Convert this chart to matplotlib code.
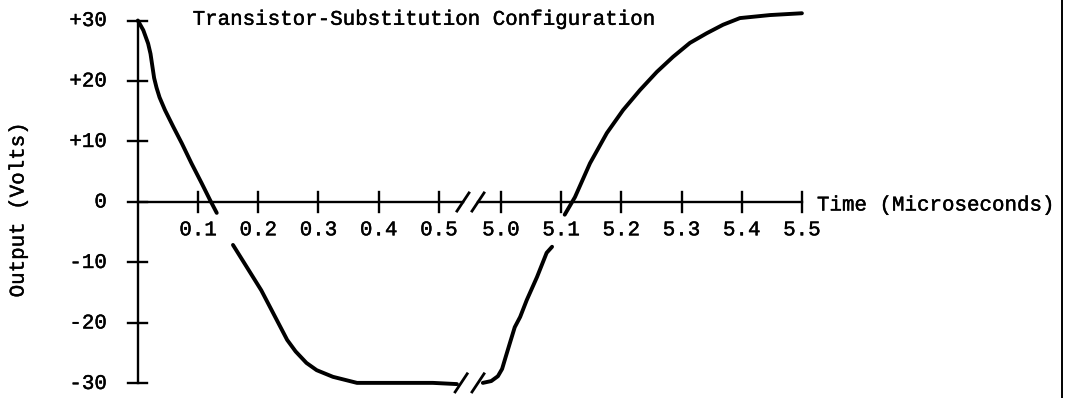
import numpy as np
import matplotlib.pyplot as plt
import matplotlib.patheffects as pe
from matplotlib.lines import Line2D

# time in microseconds, output in volts
t_fall_a = [0.0, 0.009, 0.017, 0.021, 0.024, 0.027, 0.031, 0.036, 0.045, 0.059, 0.073, 0.089, 0.106, 0.120, 0.131]
v_fall_a = [30.0, 28.4, 26.2, 24.5, 22.5, 20.5, 18.9, 17.3, 15.2, 12.4, 9.7, 6.4, 3.1, 0.3, -1.8]

t_fall_b = [0.158, 0.205, 0.248, 0.262, 0.280, 0.297, 0.324, 0.364, 0.490, 0.530]
v_fall_b = [-7.1, -14.6, -22.8, -24.7, -26.6, -27.8, -28.9, -29.9, -29.9, -30.1]

t_rise_a = [4.970, 4.984, 4.995, 5.002, 5.008, 5.015, 5.023, 5.032, 5.043, 5.060, 5.076, 5.085]
v_rise_a = [-29.9, -29.6, -28.8, -27.6, -25.6, -23.3, -20.7, -19.0, -16.2, -12.4, -8.4, -7.4]

t_rise_b = [5.106, 5.123, 5.148, 5.176, 5.203, 5.231, 5.259, 5.286, 5.314, 5.342, 5.369, 5.397, 5.447, 5.500]
v_rise_b = [-2.1, 0.8, 6.4, 11.4, 15.2, 18.5, 21.5, 24.0, 26.3, 27.9, 29.3, 30.4, 30.9, 31.2]

x_ticks = [0.1, 0.2, 0.3, 0.4, 0.5, 5.0, 5.1, 5.2, 5.3, 5.4, 5.5]
x_labels = ['0.1', '0.2', '0.3', '0.4', '0.5', '5.0', '5.1', '5.2', '5.3', '5.4', '5.5']
y_ticks = [30, 20, 10, 0, -10, -20, -30]
y_labels = ['+30', '+20', '+10', '0', '-10', '-20', '-30']

# broken time axis: 0.55 .. 4.95 squeezed into almost nothing
B1, B2, SHIFT = 0.55, 4.95, 4.397
GAP = (B2 - SHIFT) - B1


def fwd(t):
    t = np.asarray(t, dtype=float)
    mid = B1 + (t - B1) * GAP / (B2 - B1)
    return np.where(t <= B1, t, np.where(t >= B2, t - SHIFT, mid))


def inv(u):
    u = np.asarray(u, dtype=float)
    mid = B1 + (u - B1) * (B2 - B1) / GAP
    return np.where(u <= B1, u, np.where(u >= B1 + GAP, u + SHIFT, mid))


# typewriter look, slightly inked
font = dict(family=['Liberation Mono', 'DejaVu Sans Mono'], fontsize=15, color='black',
            path_effects=[pe.withStroke(linewidth=0.3, foreground='black')])

fig = plt.figure(figsize=(10.65, 3.98), dpi=100)
ax = fig.add_axes([0, 0, 1, 1])
ax.set_xscale('function', functions=(fwd, inv))
ax.set_xlim(-0.229, 5.937)
ax.set_ylim(-32.4, 33.39)
ax.axis('off')

line_kw = dict(color='black', lw=2.8, solid_capstyle='round', solid_joinstyle='round')
for tt, vv in [(t_fall_a, v_fall_a), (t_fall_b, v_fall_b), (t_rise_a, v_rise_a), (t_rise_b, v_rise_b)]:
    ax.plot(tt, vv, **line_kw)

# axes
axis_kw = dict(color='black', lw=1.7)
ax.plot([0, 0], [30, -30], **axis_kw)
ax.plot([0, 0.54], [0, 0], **axis_kw)
ax.plot([4.962, 5.5], [0, 0], **axis_kw)
for yt, lab in zip(y_ticks, y_labels):
    ax.plot([-0.016, 0.015], [yt, yt], **axis_kw)
    ax.text(-0.0515, yt, lab, ha='right', va='center', **font)
for xt, lab in zip(x_ticks, x_labels):
    ax.plot([xt, xt], [1.65, -1.65], **axis_kw)
    ax.text(xt, -4.6, lab, ha='center', va='center', **font)

# break marks on the axis and on the curve
for xc, yc in [(0.54, 0), (4.962, 0), (0.537, -29.9), (4.962, -29.9)]:
    ax.plot([xc - 0.01, xc + 0.01], [yc - 1.5, yc + 1.5], color='black', lw=2.0)

ax.text(0.091, 30.2, 'Transistor-Substitution Configuration', ha='left', va='center', **font)
ax.text(5.525, -0.5, 'Time (Microseconds)', ha='left', va='center', **font)
ax.text(-0.199, -1.3, 'Output (Volts)', ha='center', va='center', rotation=90, **font)

fig.add_artist(Line2D([1062 / 1065, 1062 / 1065], [0, 1], color='black', lw=1.4))

fig.savefig('out.png', dpi=100)
